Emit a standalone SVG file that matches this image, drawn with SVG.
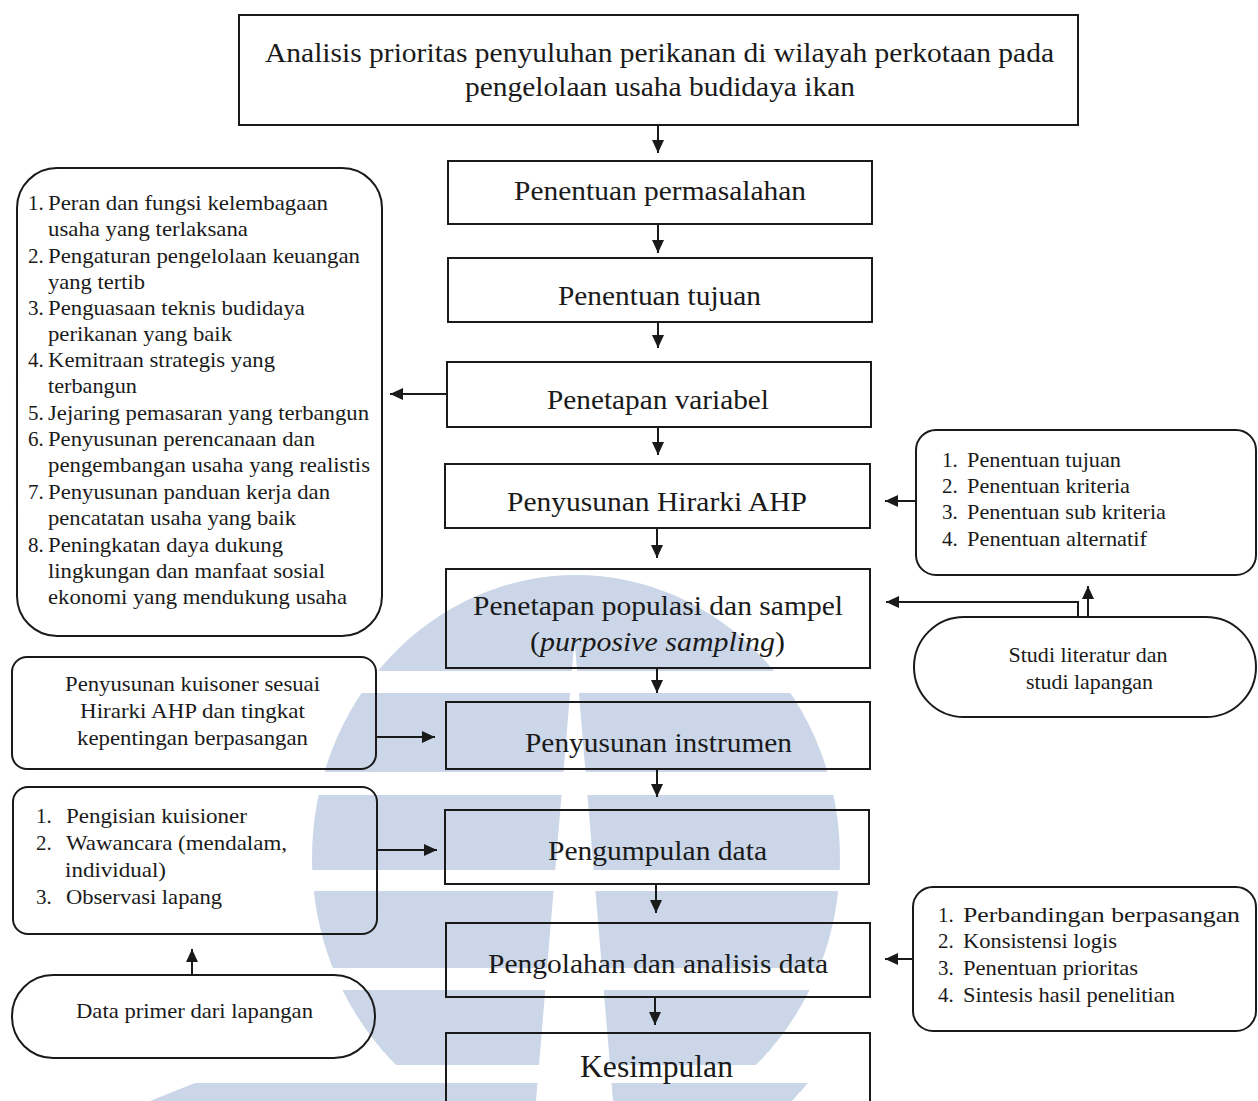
<svg xmlns="http://www.w3.org/2000/svg" width="1258" height="1101" viewBox="0 0 1258 1101">
<defs>
<marker id="ah" markerUnits="userSpaceOnUse" markerWidth="14" markerHeight="12" refX="13" refY="6" orient="auto">
<path d="M0,0 L13,6 L0,12 Z" fill="#1a1a1a"/>
</marker>
</defs>
<style>
.bx{fill:none;stroke:#1a1a1a;stroke-width:2}
.t{font-family:"Liberation Serif","Times New Roman",serif;fill:#1a1a1a}
.m{font-size:28px;text-anchor:middle}
.s{font-size:21px}
.c{text-anchor:middle}
.cn{fill:none;stroke:#1a1a1a;stroke-width:2;marker-end:url(#ah)}
</style>
<rect x="0" y="0" width="1258" height="1101" fill="#ffffff"/>
<g id="watermark">
<ellipse cx="576" cy="858" rx="264" ry="283" fill="#cbd7e8"/>
<g fill="#ffffff">
<rect x="300" y="671" width="560" height="22"/>
<rect x="300" y="772" width="560" height="23"/>
<rect x="300" y="870" width="560" height="21"/>
<rect x="300" y="968" width="560" height="22"/>
<rect x="300" y="1065" width="560" height="40"/>
</g>
<polygon points="195,1083 808,1083 792,1101 150,1101" fill="#cbd7e8"/>
<polygon points="574.5,640 613,1101 536,1101" fill="#ffffff"/>
</g>
<g id="title">
<rect class="bx" x="239" y="15" width="839" height="110"/>
<text class="t m" x="659.5" y="62" textLength="789" lengthAdjust="spacingAndGlyphs">Analisis prioritas penyuluhan perikanan di wilayah perkotaan pada</text>
<text class="t m" x="660" y="96" textLength="390" lengthAdjust="spacingAndGlyphs">pengelolaan usaha budidaya ikan</text>
</g>
<g id="n-permasalahan">
<rect class="bx" x="448" y="161" width="424" height="63"/>
<text class="t m" x="660" y="200" textLength="292" lengthAdjust="spacingAndGlyphs">Penentuan permasalahan</text>
</g>
<g id="n-tujuan">
<rect class="bx" x="448" y="258" width="424" height="64"/>
<text class="t m" x="659.5" y="305" textLength="203" lengthAdjust="spacingAndGlyphs">Penentuan tujuan</text>
</g>
<g id="n-variabel">
<rect class="bx" x="447" y="362" width="424" height="65"/>
<text class="t m" x="658" y="409" textLength="222" lengthAdjust="spacingAndGlyphs">Penetapan variabel</text>
</g>
<g id="n-hirarki">
<rect class="bx" x="445" y="464" width="425" height="64"/>
<text class="t m" x="657" y="511" textLength="300" lengthAdjust="spacingAndGlyphs">Penyusunan Hirarki AHP</text>
</g>
<g id="n-populasi">
<rect class="bx" x="446" y="569" width="424" height="99"/>
<text class="t m" x="658" y="615" textLength="370" lengthAdjust="spacingAndGlyphs">Penetapan populasi dan sampel</text>
<text class="t m" x="657.5" y="651" textLength="255" lengthAdjust="spacingAndGlyphs">(<tspan font-style="italic">purposive sampling</tspan>)</text>
</g>
<g id="n-instrumen">
<rect class="bx" x="446" y="702" width="424" height="67"/>
<text class="t m" x="658.5" y="752" textLength="267" lengthAdjust="spacingAndGlyphs">Penyusunan instrumen</text>
</g>
<g id="n-pengumpulan">
<rect class="bx" x="445" y="810" width="424" height="74"/>
<text class="t m" x="657.5" y="860" textLength="219" lengthAdjust="spacingAndGlyphs">Pengumpulan data</text>
</g>
<g id="n-pengolahan">
<rect class="bx" x="446" y="923" width="424" height="74"/>
<text class="t m" x="658" y="973" textLength="340" lengthAdjust="spacingAndGlyphs">Pengolahan dan analisis data</text>
</g>
<g id="n-kesimpulan">
<rect class="bx" x="446" y="1033" width="424" height="80"/>
<text class="t m" x="656.5" y="1077" style="font-size:31px" textLength="153" lengthAdjust="spacingAndGlyphs">Kesimpulan</text>
</g>
<g id="n-variabel-list">
<rect class="bx" x="17" y="168" width="365" height="468" rx="40" ry="40"/>
<g class="t s">
<text x="28" y="210">1.</text><text x="48" y="210" textLength="280" lengthAdjust="spacingAndGlyphs">Peran dan fungsi kelembagaan</text>
<text x="48" y="236" textLength="200" lengthAdjust="spacingAndGlyphs">usaha yang terlaksana</text>
<text x="28" y="263">2.</text><text x="48" y="263" textLength="312" lengthAdjust="spacingAndGlyphs">Pengaturan pengelolaan keuangan</text>
<text x="48" y="289" textLength="97" lengthAdjust="spacingAndGlyphs">yang tertib</text>
<text x="28" y="315">3.</text><text x="48" y="315" textLength="257" lengthAdjust="spacingAndGlyphs">Penguasaan teknis budidaya</text>
<text x="48" y="341" textLength="184" lengthAdjust="spacingAndGlyphs">perikanan yang baik</text>
<text x="28" y="367">4.</text><text x="48" y="367" textLength="227" lengthAdjust="spacingAndGlyphs">Kemitraan strategis yang</text>
<text x="48" y="393" textLength="89" lengthAdjust="spacingAndGlyphs">terbangun</text>
<text x="28" y="420">5.</text><text x="48" y="420" textLength="321" lengthAdjust="spacingAndGlyphs">Jejaring pemasaran yang terbangun</text>
<text x="28" y="446">6.</text><text x="48" y="446" textLength="267" lengthAdjust="spacingAndGlyphs">Penyusunan perencanaan dan</text>
<text x="48" y="472" textLength="322" lengthAdjust="spacingAndGlyphs">pengembangan usaha yang realistis</text>
<text x="28" y="499">7.</text><text x="48" y="499" textLength="282" lengthAdjust="spacingAndGlyphs">Penyusunan panduan kerja dan</text>
<text x="48" y="525" textLength="248" lengthAdjust="spacingAndGlyphs">pencatatan usaha yang baik</text>
<text x="28" y="552">8.</text><text x="48" y="552" textLength="235" lengthAdjust="spacingAndGlyphs">Peningkatan daya dukung</text>
<text x="48" y="578" textLength="277" lengthAdjust="spacingAndGlyphs">lingkungan dan manfaat sosial</text>
<text x="48" y="604" textLength="299" lengthAdjust="spacingAndGlyphs">ekonomi yang mendukung usaha</text>
</g>
</g>
<g id="n-kuisoner">
<rect class="bx" x="12" y="657" width="364" height="112" rx="15" ry="15"/>
<g class="t s c">
<text x="192.5" y="691" textLength="255" lengthAdjust="spacingAndGlyphs">Penyusunan kuisoner sesuai</text>
<text x="192.5" y="718" textLength="225" lengthAdjust="spacingAndGlyphs">Hirarki AHP dan tingkat</text>
<text x="192.5" y="745" textLength="231" lengthAdjust="spacingAndGlyphs">kepentingan berpasangan</text>
</g>
</g>
<g id="n-metode">
<rect class="bx" x="13" y="787" width="364" height="147" rx="15" ry="15"/>
<g class="t s">
<text x="36" y="823">1.</text><text x="66" y="823" textLength="181" lengthAdjust="spacingAndGlyphs">Pengisian kuisioner</text>
<text x="36" y="850">2.</text><text x="66" y="850" textLength="221" lengthAdjust="spacingAndGlyphs">Wawancara (mendalam,</text>
<text x="65" y="877" textLength="101" lengthAdjust="spacingAndGlyphs">individual)</text>
<text x="36" y="904">3.</text><text x="66" y="904" textLength="156" lengthAdjust="spacingAndGlyphs">Observasi lapang</text>
</g>
</g>
<g id="n-data-primer">
<rect class="bx" x="12" y="975" width="363" height="83" rx="41" ry="41"/>
<text class="t s c" x="194.5" y="1018" textLength="237" lengthAdjust="spacingAndGlyphs">Data primer dari lapangan</text>
</g>
<g id="n-hirarki-list">
<rect class="bx" x="916" y="430" width="340" height="145" rx="20" ry="20"/>
<g class="t s">
<text x="942" y="467">1.</text><text x="967" y="467" textLength="154" lengthAdjust="spacingAndGlyphs">Penentuan tujuan</text>
<text x="942" y="493">2.</text><text x="967" y="493" textLength="163" lengthAdjust="spacingAndGlyphs">Penentuan kriteria</text>
<text x="942" y="519">3.</text><text x="967" y="519" textLength="199" lengthAdjust="spacingAndGlyphs">Penentuan sub kriteria</text>
<text x="942" y="546">4.</text><text x="967" y="546" textLength="180" lengthAdjust="spacingAndGlyphs">Penentuan alternatif</text>
</g>
</g>
<g id="n-studi">
<rect class="bx" x="914" y="617" width="342" height="100" rx="50" ry="50"/>
<g class="t s c">
<text x="1088" y="662" textLength="159" lengthAdjust="spacingAndGlyphs">Studi literatur dan</text>
<text x="1089.5" y="689" textLength="127" lengthAdjust="spacingAndGlyphs">studi lapangan</text>
</g>
</g>
<g id="n-analisis-list">
<rect class="bx" x="913" y="887" width="343" height="144" rx="20" ry="20"/>
<g class="t s">
<text x="938" y="922">1.</text><text x="963" y="922" textLength="277" lengthAdjust="spacingAndGlyphs">Perbandingan berpasangan</text>
<text x="938" y="948">2.</text><text x="963" y="948" textLength="154" lengthAdjust="spacingAndGlyphs">Konsistensi logis</text>
<text x="938" y="975">3.</text><text x="963" y="975" textLength="175" lengthAdjust="spacingAndGlyphs">Penentuan prioritas</text>
<text x="938" y="1002">4.</text><text x="963" y="1002" textLength="212" lengthAdjust="spacingAndGlyphs">Sintesis hasil penelitian</text>
</g>
</g>
<g id="connectors">
<line class="cn" x1="658" y1="125" x2="658" y2="153"/>
<line class="cn" x1="658" y1="224" x2="658" y2="253"/>
<line class="cn" x1="658" y1="322" x2="658" y2="348"/>
<line class="cn" x1="658" y1="427" x2="658" y2="455"/>
<line class="cn" x1="657" y1="528" x2="657" y2="558"/>
<line class="cn" x1="657" y1="668" x2="657" y2="693"/>
<line class="cn" x1="657" y1="769" x2="657" y2="797"/>
<line class="cn" x1="656" y1="884" x2="656" y2="913"/>
<line class="cn" x1="655" y1="997" x2="655" y2="1025"/>
<line class="cn" x1="447" y1="394" x2="390" y2="394"/>
<line class="cn" x1="376" y1="737" x2="435" y2="737"/>
<line class="cn" x1="377" y1="850" x2="437" y2="850"/>
<line class="cn" x1="192" y1="975" x2="192" y2="949"/>
<line class="cn" x1="916" y1="501" x2="885" y2="501"/>
<path class="cn" d="M1078,617 V602 H886"/>
<line class="cn" x1="1088" y1="617" x2="1088" y2="586"/>
<line class="cn" x1="913" y1="959" x2="885" y2="959"/>
</g>
</svg>
